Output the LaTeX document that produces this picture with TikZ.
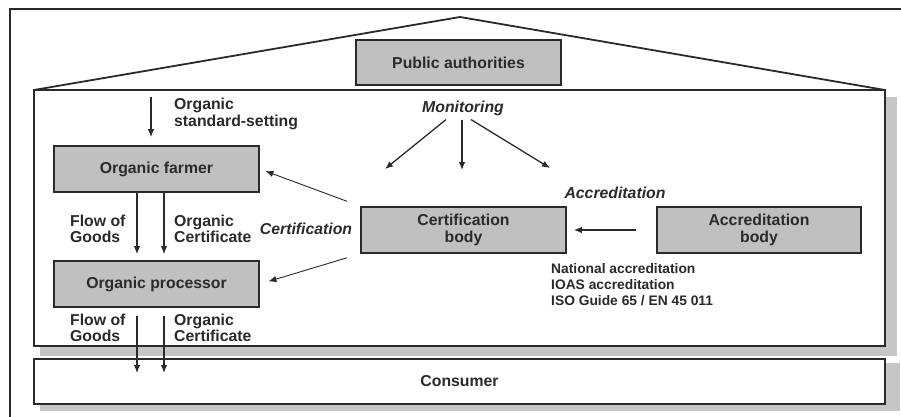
\documentclass[tikz,border=0pt]{standalone}
\usepackage{fontspec}
\setmainfont{Liberation Sans}
\usetikzlibrary{arrows.meta}
\definecolor{boxgray}{HTML}{C0C0C0}
\definecolor{shadowgray}{HTML}{C6C6C6}
\definecolor{inkgray}{HTML}{2A2A2A}
\tikzset{
  actor/.style={draw=inkgray, line width=1.6pt, fill=boxgray, minimum width=205pt,
    minimum height=46pt, inner sep=0pt, align=center, text=inkgray,
    font=\fontsize{15.8}{17}\selectfont\bfseries},
  lbl/.style={inner sep=0pt, align=left, text=inkgray,
    font=\fontsize{15.8}{16.5}\selectfont\bfseries},
  ilbl/.style={lbl, font=\fontsize{15.8}{16.5}\selectfont\bfseries\itshape},
  flow/.style={draw=inkgray, line width=1.3pt}
}
\begin{document}
\begin{tikzpicture}[x=1pt,y=-1pt,>={Latex[length=8pt,width=6.5pt]}]
  \useasboundingbox (0,0) rectangle (901,416);
  \clip (0,0) rectangle (901,416);
  \draw[line width=1.6pt, draw=inkgray] (10,430) -- (10,9) -- (910,9);
  % house
  \fill[shadowgray] (40,97) rectangle (897,356);
  \draw[line width=1.8pt, draw=inkgray, fill=white] (34,90) rectangle (885,346);
  \draw[line width=1.8pt, draw=inkgray, line join=miter] (34,90) -- (460,17) -- (885,90);
  \fill[shadowgray] (40,363) rectangle (900,411);
  \node (consumer) [actor, fill=white, minimum width=851pt, minimum height=45pt] at (459.5,381.5) {Consumer};

  \node (pub) [actor, minimum height=45pt] at (458.5,62.5) {Public authorities};
  \node (farmer) [actor] at (156.5,169) {Organic farmer};
  \node (proc) [actor] at (156.5,284) {Organic processor};
  \node (cert) [actor] at (463.5,230) {Certification\\body};
  \node (accr) [actor, minimum width=204pt] at (759,230) {Accreditation\\body};

  \coordinate (std) at (151,97);
  \coordinate (m1) at (385,169);
  \coordinate (m2) at (462,170);
  \coordinate (m3) at (550,168);
  \coordinate (g1) at (137,373);
  \coordinate (g2) at (164,373);

  \node (std lbl) [lbl, anchor=west] at (174,114) {Organic\\standard-setting};
  \node (mon) [ilbl] at (463,108) {Monitoring};
  \node (acc lbl) [ilbl] at (615,193) {Accreditation};
  \node (cert lbl) [ilbl] at (306,229) {Certification};
  \node (goods1) [lbl, anchor=west] at (70,229) {Flow of\\Goods};
  \node (oc1) [lbl, anchor=west] at (174,229) {Organic\\Certificate};
  \node (goods2) [lbl, anchor=west] at (70,328) {Flow of\\Goods};
  \node (oc2) [lbl, anchor=west] at (174,328) {Organic\\Certificate};
  \node (norms) [lbl, anchor=west, font=\fontsize{13.8}{16}\selectfont\bfseries] at (551,285)
    {National accreditation\\IOAS accreditation\\ISO Guide 65 / EN 45 011};

  \draw[->, flow, shorten >=8pt] (std) -- ([xshift=-5.5pt]farmer.north);
  \draw[->, flow] ([xshift=-17pt,yshift=-4pt]mon.south) -- (m1);
  \draw[->, flow] ([xshift=-1pt,yshift=-4pt]mon.south) -- (m2);
  \draw[->, flow] ([xshift=8pt,yshift=-4pt]mon.south) -- (m3);
  \draw[->, flow, shorten <=20pt, shorten >=7pt] (accr.west) -- (cert.east);
  \draw[->, flow, line width=0.9pt, shorten <=14pt, shorten >=6pt] (cert.north west) -- (farmer.east);
  \draw[->, flow, line width=0.9pt, shorten <=14pt, shorten >=9pt] (cert.south west) -- (proc.east);
  \draw[->, flow, shorten >=6pt] ([xshift=-19.5pt]farmer.south) -- ([xshift=-19.5pt]proc.north);
  \draw[->, flow, shorten >=6pt] ([xshift=7.5pt]farmer.south) -- ([xshift=7.5pt]proc.north);
  \draw[->, flow, shorten <=8pt] ([xshift=-19.5pt]proc.south) -- (g1);
  \draw[->, flow, shorten <=8pt] ([xshift=7.5pt]proc.south) -- (g2);
\end{tikzpicture}
\end{document}
